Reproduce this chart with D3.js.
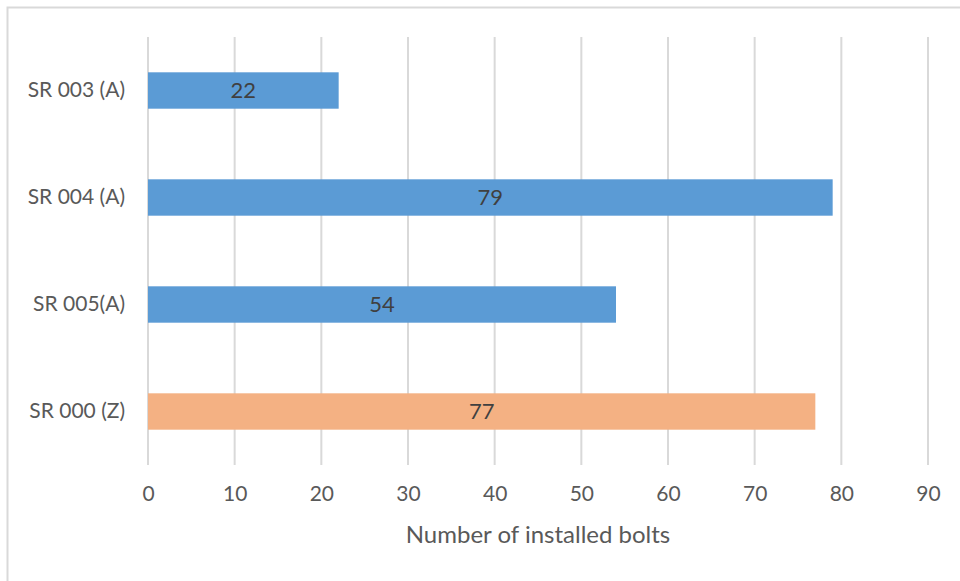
<!DOCTYPE html>
<html>
<head>
<meta charset="utf-8">
<script src="https://cdn.jsdelivr.net/npm/d3@7"></script>
<style>
  html, body { margin: 0; padding: 0; background: #fff; }
  svg { display: block; }
</style>
</head>
<body>
<svg id="chart" width="960" height="581"></svg>
<script>
const categories = ["SR 003 (A)", "SR 004 (A)", "SR 005(A)", "SR 000 (Z)"];
const values = [22, 79, 54, 77];
const barColors = ["#5B9BD5", "#5B9BD5", "#5B9BD5", "#F4B183"];
const xTicks = [0, 10, 20, 30, 40, 50, 60, 70, 80, 90];
const xTitle = "Number of installed bolts";

const svg = d3.select("#chart");
const font = "Lato, 'Open Sans', sans-serif";

// chart border
svg.append("rect")
  .attr("x", 7.5).attr("y", 7.5)
  .attr("width", 960).attr("height", 580)
  .attr("fill", "#fff").attr("stroke", "#D9D9D9").attr("stroke-width", 2);

const x = d3.scaleLinear().domain([0, 90]).range([148, 928]);
const y = d3.scaleBand().domain(categories).range([37, 465]).paddingInner(0.66).paddingOuter(0.33);

// gridlines
svg.append("g").selectAll("line").data(xTicks).join("line")
  .attr("x1", d => x(d)).attr("x2", d => x(d))
  .attr("y1", 37).attr("y2", 465)
  .attr("stroke", "#D9D9D9").attr("stroke-width", 2);

// bars
svg.append("g").selectAll("rect").data(categories).join("rect")
  .attr("x", x(0))
  .attr("y", d => y(d))
  .attr("width", (d, i) => x(values[i]) - x(0))
  .attr("height", y.bandwidth())
  .attr("fill", (d, i) => barColors[i]);

// value labels
svg.append("g").selectAll("text").data(categories).join("text")
  .attr("x", (d, i) => (x(values[i]) + x(0)) / 2)
  .attr("y", d => y(d) + y.bandwidth() / 2)
  .attr("dy", "0.35em")
  .attr("text-anchor", "middle")
  .attr("font-family", font).attr("font-size", 22)
  .attr("fill", "#404040")
  .text((d, i) => values[i]);

// x axis tick labels
const xAxis = d3.axisBottom(x).tickValues(xTicks).tickSize(0).tickPadding(0);
const gx = svg.append("g").attr("transform", "translate(0,486)").call(xAxis);
gx.select(".domain").remove();
gx.selectAll("text")
  .attr("font-family", font).attr("font-size", 21)
  .attr("fill", "#595959");

// y axis labels
const yAxis = d3.axisLeft(y).tickSize(0).tickPadding(0);
const gy = svg.append("g").attr("transform", "translate(125,0)").call(yAxis);
gy.select(".domain").remove();
gy.selectAll("text")
  .attr("font-family", font).attr("font-size", 21)
  .attr("fill", "#595959");

// axis title
svg.append("text")
  .attr("x", x(45)).attr("y", 535).attr("dy", "0.35em")
  .attr("text-anchor", "middle")
  .attr("font-family", font).attr("font-size", 24)
  .attr("fill", "#595959")
  .text(xTitle);
</script>
</body>
</html>
